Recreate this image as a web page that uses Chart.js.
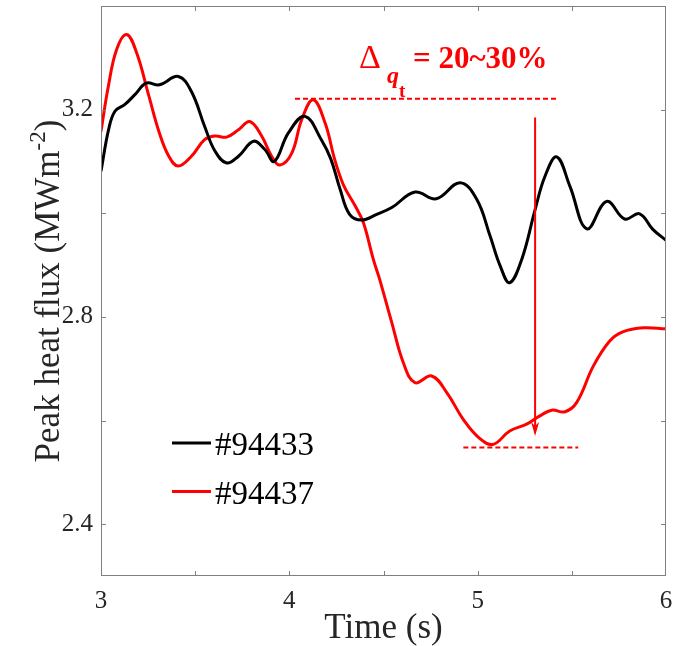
<!DOCTYPE html>
<html>
<head>
<meta charset="utf-8">
<script src="https://cdn.jsdelivr.net/npm/chart.js@4.4.1/dist/chart.umd.min.js"></script>
<style>
  html, body { margin: 0; padding: 0; background: #fff; }
  #grafico { display: block; }
</style>
</head>
<body>
<canvas id="grafico" width="675" height="646"></canvas>
<script>
// Tempo (s) e fluxo de calor de pico (MW m^-2) de cada descarga
const tempo94433 = [3.00, 3.04, 3.074, 3.127, 3.18, 3.24, 3.31, 3.41, 3.48, 3.55, 3.605, 3.667, 3.73, 3.81, 3.87, 3.92, 3.995, 4.083, 4.17, 4.22, 4.27, 4.32, 4.384, 4.464, 4.544, 4.667, 4.78, 4.906, 4.995, 5.066, 5.12, 5.17, 5.234, 5.305, 5.357, 5.42, 5.49, 5.58, 5.685, 5.78, 5.86, 5.93, 6.00];
const fluxo94433 = [3.081, 3.161, 3.197, 3.210, 3.229, 3.251, 3.248, 3.264, 3.235, 3.168, 3.120, 3.097, 3.110, 3.139, 3.123, 3.100, 3.155, 3.187, 3.142, 3.105, 3.046, 2.998, 2.987, 2.998, 3.011, 3.041, 3.028, 3.059, 3.027, 2.956, 2.898, 2.866, 2.911, 3.007, 3.071, 3.109, 3.052, 2.970, 3.023, 2.989, 2.999, 2.969, 2.948];

const tempo94437 = [3.00, 3.039, 3.083, 3.136, 3.19, 3.25, 3.31, 3.36, 3.41, 3.48, 3.55, 3.605, 3.667, 3.73, 3.79, 3.853, 3.906, 3.95, 4.013, 4.066, 4.127, 4.19, 4.24, 4.287, 4.35, 4.393, 4.446, 4.48, 4.544, 4.605, 4.667, 4.756, 4.836, 4.924, 5.012, 5.083, 5.17, 5.26, 5.33, 5.393, 5.464, 5.526, 5.614, 5.70, 5.77, 5.88, 6.00];
const fluxo94437 = [3.158, 3.245, 3.316, 3.345, 3.309, 3.232, 3.155, 3.110, 3.091, 3.110, 3.142, 3.149, 3.147, 3.161, 3.177, 3.149, 3.110, 3.093, 3.116, 3.181, 3.219, 3.174, 3.105, 3.055, 3.014, 2.982, 2.911, 2.872, 2.789, 2.712, 2.673, 2.686, 2.654, 2.602, 2.565, 2.554, 2.580, 2.593, 2.609, 2.620, 2.617, 2.635, 2.705, 2.753, 2.771, 2.779, 2.777];

const rotulos = ['#94433', '#94437'];
const cores = ['#000000', '#ff0000'];

// Niveis tracejados antes/depois da queda e a seta entre eles
const tempoNivelAntes = [4.03, 5.43];
const nivelAntes = 3.221;
const tempoNivelDepois = [4.924, 5.534];
const nivelDepois = 2.548;
const tempoSeta = 5.305;
const setaDe = 3.185;
const setaAte = 2.570;

// Eixos
const eixoX = { min: 3, max: 6, passo: 0.5 };
const eixoY = { min: 2.3, max: 3.4, passo: 0.2 };

const fonte = "'Liberation Serif', 'Times New Roman', serif";
const corTexto = '#262626';
const corEixo = '#808080';

function pontos(tempos, valores) {
  return tempos.map((t, i) => ({ x: t, y: valores[i] }));
}

// Sem folga extra das escalas: a area do grafico fica so com o padding do layout
function semFolga(s) {
  s.paddingTop = 0;
  s.paddingBottom = 0;
  s.paddingLeft = 0;
  s.paddingRight = 0;
}

// Caixa fechada com marcas para dentro, legenda, titulos e anotacao
const moldura = {
  id: 'moldura',
  afterDatasetsDraw(chart) {
    const { ctx, chartArea: a, scales: { x, y } } = chart;
    ctx.save();

    ctx.strokeStyle = corEixo;
    ctx.lineWidth = 1;
    ctx.strokeRect(a.left + 0.5, a.top + 0.5, a.right - a.left - 1, a.bottom - a.top - 1);

    const marca = 5;
    ctx.beginPath();
    x.ticks.forEach(t => {
      if (t.value <= x.min || t.value >= x.max) return;
      const px = Math.round(x.getPixelForValue(t.value)) + 0.5;
      ctx.moveTo(px, a.bottom); ctx.lineTo(px, a.bottom - marca);
      ctx.moveTo(px, a.top); ctx.lineTo(px, a.top + marca);
    });
    y.ticks.forEach(t => {
      if (t.value <= y.min + 1e-6 || t.value >= y.max - 1e-6) return;
      const py = Math.round(y.getPixelForValue(t.value)) + 0.5;
      ctx.moveTo(a.left, py); ctx.lineTo(a.left + marca, py);
      ctx.moveTo(a.right, py); ctx.lineTo(a.right - marca, py);
    });
    ctx.stroke();

    // seta vertical
    const xs = x.getPixelForValue(tempoSeta);
    const y0 = y.getPixelForValue(setaDe);
    const y1 = y.getPixelForValue(setaAte);
    ctx.strokeStyle = cores[1];
    ctx.fillStyle = cores[1];
    ctx.lineWidth = 2;
    ctx.beginPath();
    ctx.moveTo(xs, y0); ctx.lineTo(xs, y1 - 6);
    ctx.stroke();
    ctx.beginPath();
    ctx.moveTo(xs, y1);
    ctx.lineTo(xs - 4, y1 - 14);
    ctx.lineTo(xs, y1 - 10);
    ctx.lineTo(xs + 4, y1 - 14);
    ctx.closePath();
    ctx.fill();

    // texto da anotacao
    const ax = x.getPixelForValue(4.37);
    const ay = y.getPixelForValue(3.28);
    ctx.textBaseline = 'alphabetic';
    ctx.textAlign = 'left';
    ctx.font = `34px ${fonte}`;
    ctx.fillText('\u0394', ax, ay);
    ctx.font = `italic bold 24px ${fonte}`;
    ctx.fillText('q', ax + 28, ay + 15);
    ctx.font = `bold 19px ${fonte}`;
    ctx.fillText('t', ax + 40, ay + 29);
    ctx.font = `bold 31px ${fonte}`;
    ctx.fillText('= 20~30%', ax + 54, ay);

    // legenda
    chart.data.datasets.slice(0, 2).forEach((ds, i) => {
      const ly = a.top + 437 + i * 48.5;
      ctx.strokeStyle = ds.borderColor;
      ctx.lineWidth = 3;
      ctx.beginPath();
      ctx.moveTo(a.left + 71, ly); ctx.lineTo(a.left + 110, ly);
      ctx.stroke();
      ctx.fillStyle = '#000';
      ctx.font = `33px ${fonte}`;
      ctx.fillText(ds.label, a.left + 114, ly + 12);
    });

    // titulos dos eixos
    ctx.fillStyle = corTexto;
    ctx.font = `35px ${fonte}`;
    ctx.textAlign = 'center';
    ctx.fillText('Time (s)', (a.left + a.right) / 2, 638);

    ctx.translate(59, (a.top + a.bottom) / 2);
    ctx.rotate(-Math.PI / 2);
    ctx.textAlign = 'left';
    const p1 = 'Peak heat flux (MWm';
    const p2 = '-2';
    const p3 = ')';
    ctx.font = `35px ${fonte}`;
    const w1 = ctx.measureText(p1).width;
    const w3 = ctx.measureText(p3).width;
    ctx.font = `23px ${fonte}`;
    const w2 = ctx.measureText(p2).width;
    let cx = -(w1 + w2 + w3) / 2;
    ctx.font = `35px ${fonte}`;
    ctx.fillText(p1, cx, 0);
    cx += w1;
    ctx.font = `23px ${fonte}`;
    ctx.fillText(p2, cx, -14);
    cx += w2;
    ctx.font = `35px ${fonte}`;
    ctx.fillText(p3, cx, 0);

    ctx.restore();
  }
};

const ctx = document.getElementById('grafico').getContext('2d');
const grafico = new Chart(ctx, {
  type: 'line',
  data: {
    datasets: [
      {
        label: rotulos[0],
        data: pontos(tempo94433, fluxo94433),
        borderColor: cores[0],
        borderWidth: 3,
        tension: 0.4,
        pointRadius: 0
      },
      {
        label: rotulos[1],
        data: pontos(tempo94437, fluxo94437),
        borderColor: cores[1],
        borderWidth: 3,
        tension: 0.4,
        pointRadius: 0
      },
      {
        label: 'antes',
        data: pontos(tempoNivelAntes, [nivelAntes, nivelAntes]),
        borderColor: cores[1],
        borderWidth: 2,
        borderDash: [5, 3],
        pointRadius: 0
      },
      {
        label: 'depois',
        data: pontos(tempoNivelDepois, [nivelDepois, nivelDepois]),
        borderColor: cores[1],
        borderWidth: 2,
        borderDash: [5, 3],
        pointRadius: 0
      }
    ]
  },
  options: {
    responsive: false,
    animation: false,
    devicePixelRatio: 1,
    layout: { padding: { top: 6, right: 9, left: 0, bottom: 0 } },
    plugins: {
      legend: { display: false },
      tooltip: { enabled: false }
    },
    scales: {
      x: {
        type: 'linear',
        min: eixoX.min,
        max: eixoX.max,
        grid: { drawOnChartArea: false, drawTicks: false },
        border: { display: false },
        ticks: {
          stepSize: eixoX.passo,
          padding: 10,
          color: corTexto,
          font: { family: fonte, size: 25 },
          maxRotation: 0,
          autoSkip: false,
          callback: v => (Math.abs(v - Math.round(v)) < 1e-6 ? String(Math.round(v)) : '')
        },
        afterFit: s => { s.height = 70; semFolga(s); }
      },
      y: {
        min: eixoY.min,
        max: eixoY.max,
        grid: { drawOnChartArea: false, drawTicks: false },
        border: { display: false },
        ticks: {
          stepSize: eixoY.passo,
          padding: 8,
          color: corTexto,
          font: { family: fonte, size: 25 },
          autoSkip: false,
          callback: v => {
            const d = Math.round(v * 10);
            return (d >= 24 && d <= 32 && d % 4 === 0 && Math.abs(v * 10 - d) < 1e-6) ? (d / 10).toFixed(1) : '';
          }
        },
        afterFit: s => { s.width = 101; semFolga(s); }
      }
    }
  },
  plugins: [moldura]
});
</script>
</body>
</html>
